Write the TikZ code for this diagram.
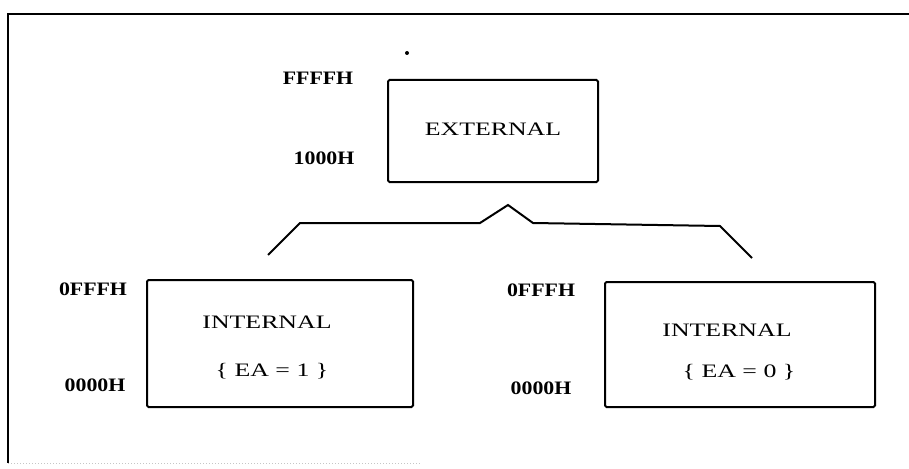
\documentclass[tikz,border=0pt]{standalone}
\usepackage{fontspec}
\setmainfont{Liberation Serif}
\newfontfamily\lblfont[FakeStretch=1.15]{Liberation Serif}
\newfontfamily\boxfont[FakeStretch=1.36]{Liberation Serif}
\begin{document}
\begin{tikzpicture}[x=1pt,y=-1pt,
  membox/.style={draw, line width=2pt, rounded corners=1.5pt},
  addr/.style={inner sep=0pt, font=\lblfont\fontsize{19}{21}\selectfont\bfseries},
  boxtxt/.style={inner sep=0pt, font=\boxfont\fontsize{19}{21}\selectfont},
  wire/.style={line width=2pt, line join=miter}]
\useasboundingbox (0,0) rectangle (909,468);
% frame
\coordinate (ftl) at (8,14);
\coordinate (ftr) at (909,14);
\coordinate (fbl) at (8,463);
\coordinate (fbr) at (420,463);
\draw[line width=2pt] (ftr) -- (ftl) -- (fbl);
\draw[gray!45, dotted, line width=1pt] (fbl) -- (fbr);
\fill (407,53) circle (2pt);
% boxes
\node[membox, minimum width=210pt, minimum height=102pt, inner sep=0pt] (ext) at (493,131) {};
\node[membox, minimum width=266pt, minimum height=127pt, inner sep=0pt] (int1) at (280,343.5) {};
\node[membox, minimum width=270pt, minimum height=125pt, inner sep=0pt] (int0) at (740,344.5) {};
% texts
\node[boxtxt] (extt) at (493,129) {EXTERNAL};
\node[boxtxt] (i1t) at (267,322) {INTERNAL};
\node[boxtxt] (i1e) at (272,371) {\{ EA = 1 \}};
\node[boxtxt] (i0t) at (727,330) {INTERNAL};
\node[boxtxt] (i0e) at (739,372) {\{ EA = 0 \}};
% address labels
\node[addr] (a1) at (318,78) {FFFFH};
\node[addr] (a2) at (324,158) {1000H};
\node[addr] (a3) at (93,289) {0FFFH};
\node[addr] (a4) at (95,385) {0000H};
\node[addr] (a5) at (541,290) {0FFFH};
\node[addr] (a6) at (541,388) {0000H};
% brace connector
\coordinate (c1) at (268,255);
\coordinate (c2) at (300,223);
\coordinate (c3) at (480,223);
\coordinate (c4) at (508,205);
\coordinate (c5) at (533,223);
\coordinate (c6) at (720,226);
\coordinate (c7) at (752,258);
\draw[wire] (c1) -- (c2) -- (c3) -- (c4) -- (c5) -- (c6) -- (c7);
\end{tikzpicture}
\end{document}
